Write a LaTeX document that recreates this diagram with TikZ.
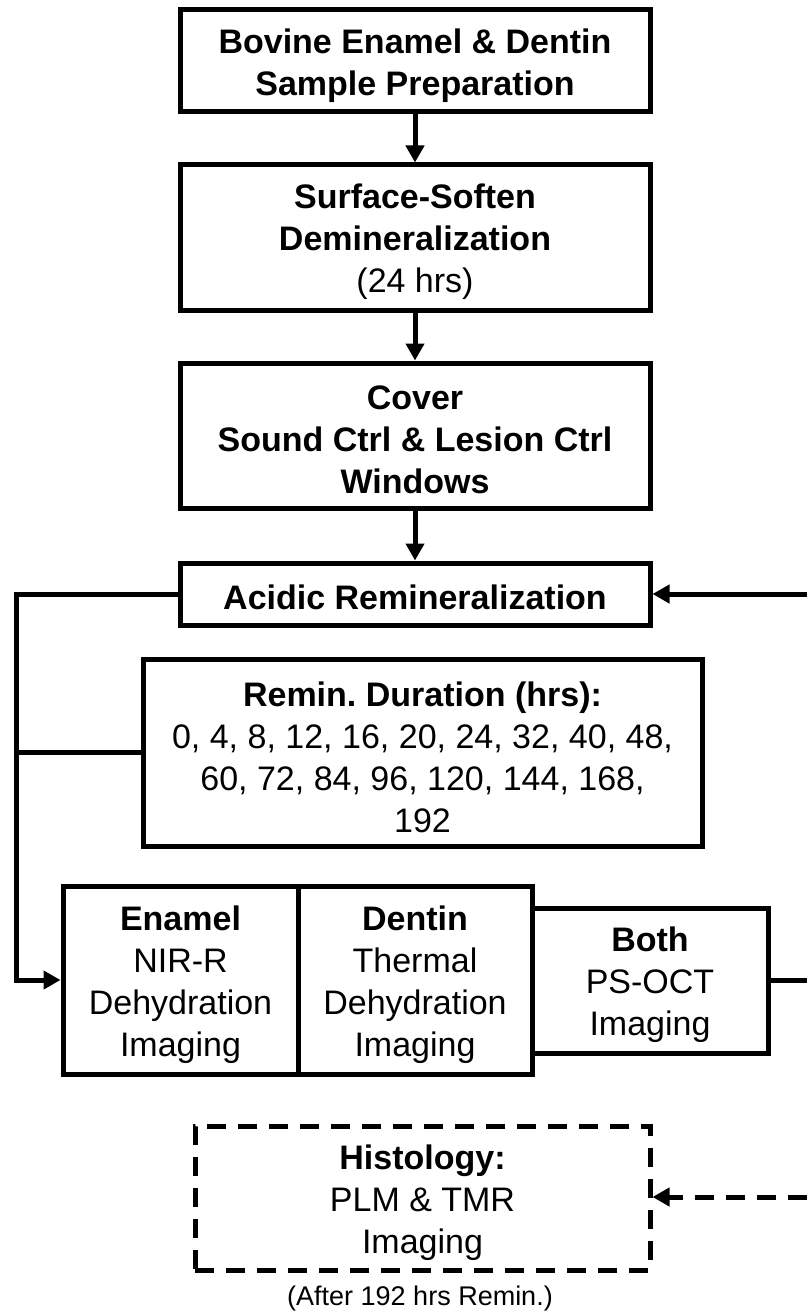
\documentclass[tikz,border=0pt]{standalone}
\usepackage{fontspec}
\setmainfont{Liberation Sans}
\usetikzlibrary{arrows.meta}
\frenchspacing
\begin{document}
\begin{tikzpicture}[x=1pt,y=-1pt,
  box/.style={draw,line width=5pt,inner sep=0pt},
  dbox/.style={box,dash pattern=on 19pt off 12pt},
  lab/.style={inner sep=0pt,align=center,font=\fontsize{34}{42}\selectfont},
  arr/.style={line width=5pt,-{Triangle[length=17pt,width=18pt]}},
  darr/.style={arr,dash pattern=on 19pt off 12pt},
  ln/.style={line width=5pt}]
\useasboundingbox (0,0) rectangle (807,1313);
\node[box,minimum width=470pt,minimum height=102pt] (prep) at (415,61) {};
\node[lab] (prepT) at ([yshift=-4.5pt]prep.center)
  {\textbf{Bovine Enamel \& Dentin}\\\textbf{Sample Preparation}};
\node[box,minimum width=470pt,minimum height=145pt] (soft) at (415,237.5) {};
\node[lab] (softT) at ([yshift=-4.5pt]soft.center)
  {\textbf{Surface-Soften}\\\textbf{Demineralization}\\(24 hrs)};
\node[box,minimum width=470pt,minimum height=145pt] (cover) at (415,435.5) {};
\node[lab] (coverT) at ([yshift=-4.5pt]cover.center)
  {\textbf{Cover}\\\textbf{Sound Ctrl \& Lesion Ctrl}\\\textbf{Windows}};
\node[box,minimum width=470pt,minimum height=62pt] (acid) at (415,594) {};
\node[lab] (acidT) at ([yshift=-3pt]acid.center) {\textbf{Acidic Remineralization}};
\node[box,minimum width=559pt,minimum height=187pt] (dur) at (422.5,752.5) {};
\node[lab] (durT) at ([yshift=-4.5pt]dur.center)
  {\textbf{Remin.\ Duration (hrs):}\\0, 4, 8, 12, 16, 20, 24, 32, 40, 48,\\60, 72, 84, 96, 120, 144, 168,\\192};
\node[box,minimum width=235pt,minimum height=188pt] (enamel) at (180.5,980) {};
\node[lab] (enamelT) at ([yshift=-4.5pt]enamel.center)
  {\textbf{Enamel}\\NIR-R\\Dehydration\\Imaging};
\node[box,minimum width=234pt,minimum height=188pt] (dentin) at (415,980) {};
\node[lab] (dentinT) at ([yshift=-4.5pt]dentin.center)
  {\textbf{Dentin}\\Thermal\\Dehydration\\Imaging};
\node[box,minimum width=236pt,minimum height=145pt] (both) at (650,980.5) {};
\node[lab] (bothT) at ([yshift=-4.5pt]both.center)
  {\textbf{Both}\\PS-OCT\\Imaging};
\node[dbox,minimum width=455pt,minimum height=144pt] (hist) at (422.5,1198) {};
\node[lab] (histT) at ([yshift=-4.5pt]hist.center)
  {\textbf{Histology:}\\PLM \& TMR\\Imaging};
\node[inner sep=0pt,font=\fontsize{27}{32}\selectfont] (after) at (420,1298) {(After 192 hrs Remin.)};
\coordinate (lt) at (16,594);
\coordinate (lb) at (16,980);
\coordinate (rt) at (807,594);
\coordinate (rm) at (807,980.5);
\coordinate (rb) at (807,1197);
\draw[arr] (prep) -- (soft);
\draw[arr] (soft) -- (cover);
\draw[arr] (cover) -- (acid);
\draw[arr] (acid.west) -- (lt) -- (lb) -- (enamel.west);
\draw[ln] (dur.west) -- (dur.west -| lt);
\draw[arr] (rt) -- (acid.east);
\draw[ln] (both.east) -- (rm);
\draw[darr] (rb) -- (hist.east |- rb);
\end{tikzpicture}
\end{document}
